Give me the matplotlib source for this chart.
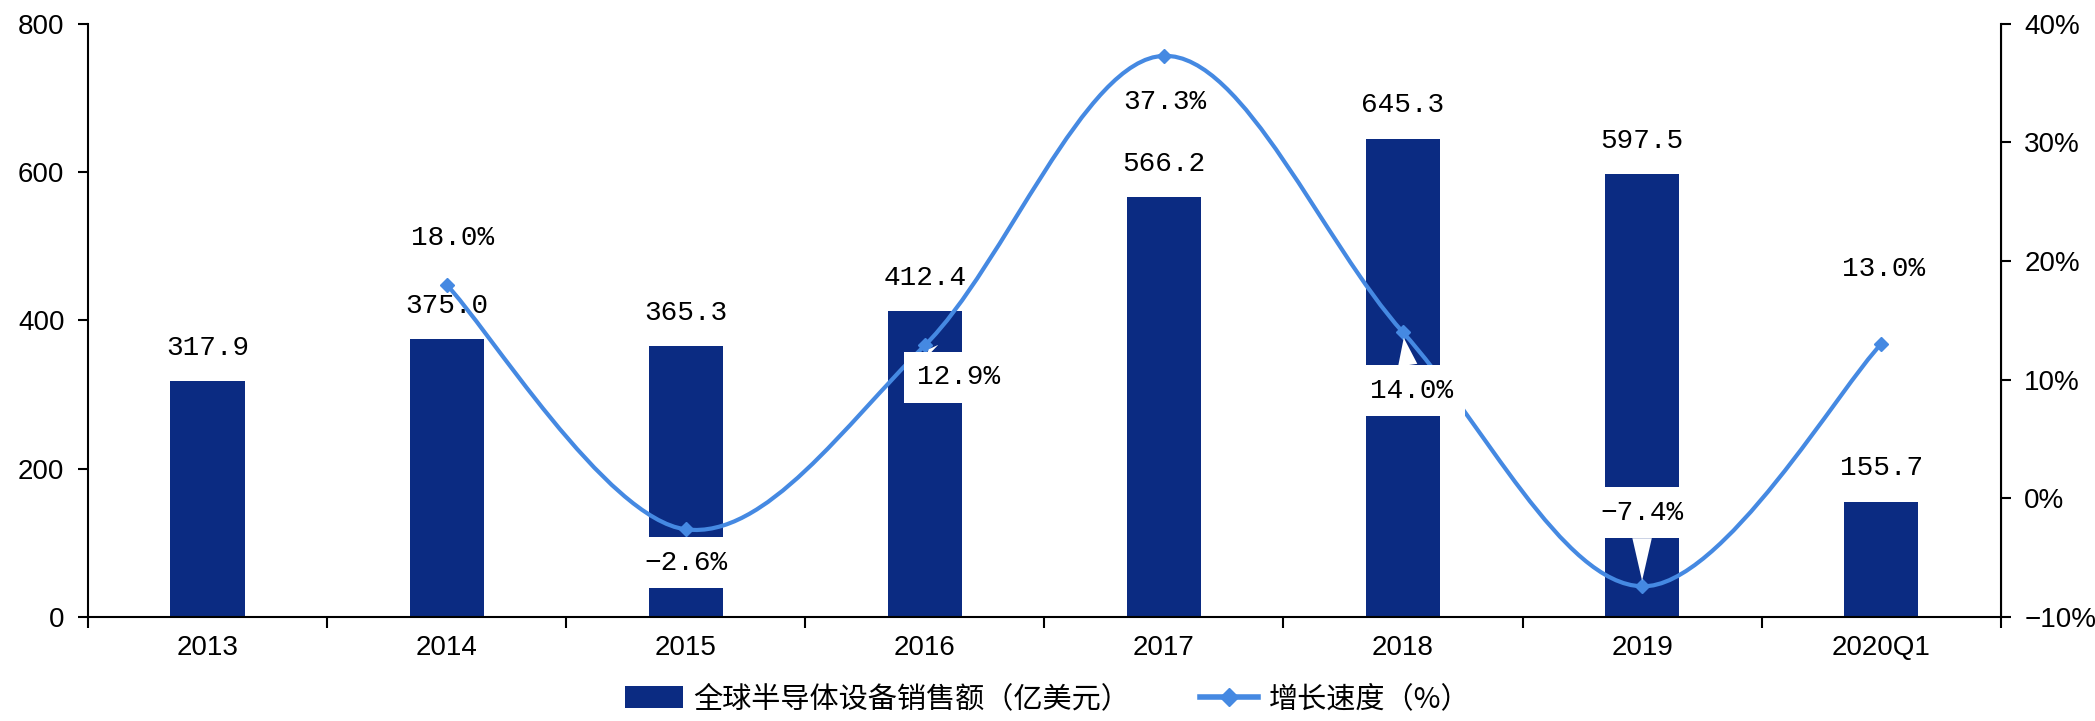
import numpy as np
import matplotlib
matplotlib.use("Agg")
import matplotlib.pyplot as plt
from matplotlib.path import Path
from matplotlib.patches import PathPatch, Patch
from matplotlib.lines import Line2D
from matplotlib.ticker import FuncFormatter

plt.rcParams['font.family'] = ['Liberation Sans', 'DejaVu Sans']

# ----- data -----
categories = ['2013', '2014', '2015', '2016', '2017', '2018', '2019', '2020Q1']
sales = [317.9, 375.0, 365.3, 412.4, 566.2, 645.3, 597.5, 155.7]
growth = [np.nan, 18.0, -2.6, 12.9, 37.3, 14.0, -7.4, 13.0]
growth_labels = [None, '18.0%', '-2.6%', '12.9%', '37.3%', '14.0%', '-7.4%', '13.0%']
# label offsets (points) relative to each marker, and whether a callout pointer shows
growth_offsets = [None, (4, 34), (0, -24), (24, -23), (1, -33), (6, -42), (0, 53), (2, 54)]
growth_pointer = [False, False, False, True, False, True, True, False]
growth_pad = [0, 0.45, 0.45, 0.45, 0.12, 0.45, 0.45, 0.45]

bar_color = '#0b2b82'
line_color = '#4589e2'

fig = plt.figure(figsize=(20.95, 7.21), dpi=100)
ax = fig.add_axes([0.042, 0.144, 0.913, 0.823])

x = np.arange(len(categories))
ax.bar(x, sales, width=0.31, color=bar_color, zorder=2)
ax.set_xlim(-0.5, len(categories) - 0.5)
ax.set_ylim(0, 800)
ax.set_yticks(np.arange(0, 801, 200))

# category labels at centres, ticks at boundaries
ax.set_xticks(x)
ax.set_xticklabels(categories)
ax.set_xticks(np.arange(-0.5, len(categories)), minor=True)
ax.tick_params(axis='x', which='major', length=0, pad=13, labelsize=20)
ax.tick_params(axis='x', which='minor', length=8, width=1.5, direction='out')
ax.tick_params(axis='y', length=7, width=1.5, labelsize=20, pad=10)

ax.spines['top'].set_visible(False)
for s in ['left', 'bottom']:
    ax.spines[s].set_linewidth(1.5)

for xi, v in zip(x, sales):
    ax.annotate(f'{v:.1f}', (xi, v), xytext=(0, 24), textcoords='offset points',
                ha='center', va='center', fontsize=20, family='Liberation Mono', zorder=3)

# ----- growth line on the right axis -----
ax2 = ax.twinx()
ax2.set_ylim(-10, 40)
ax2.set_yticks(np.arange(-10, 41, 10))
ax2.yaxis.set_major_formatter(FuncFormatter(lambda v, p: f'{v:.0f}%'.replace('-', '\u2212')))
ax2.tick_params(axis='y', length=7, width=1.5, labelsize=20, pad=10)
ax2.spines['top'].set_visible(False)
ax2.spines['right'].set_linewidth(1.5)
ax2.spines['left'].set_visible(False)
ax2.spines['bottom'].set_visible(False)

# smoothed curve (Catmull-Rom style bezier like the spreadsheet "smooth line")
gx = [xi for xi, g in zip(x, growth) if not np.isnan(g)]
gy = [g for g in growth if not np.isnan(g)]
pts = np.column_stack([gx, gy]).astype(float)
n = len(pts)
verts = [pts[0]]
codes = [Path.MOVETO]
for i in range(n - 1):
    p_prev = pts[i - 1] if i > 0 else pts[i]
    p_next2 = pts[i + 2] if i + 2 < n else pts[i + 1]
    c1 = pts[i] + (pts[i + 1] - p_prev) / 6.0
    c2 = pts[i + 1] - (p_next2 - pts[i]) / 6.0
    verts += [c1, c2, pts[i + 1]]
    codes += [Path.CURVE4] * 3
curve = PathPatch(Path(verts, codes), facecolor='none', edgecolor=line_color,
                  lw=3, zorder=3, transform=ax2.transData)
ax2.add_patch(curve)
ax2.plot(gx, gy, linestyle='none', marker='D', markersize=7, color=line_color, zorder=4)

for xi, g, lab, off, ptr, pad in zip(x, growth, growth_labels, growth_offsets,
                                     growth_pointer, growth_pad):
    if lab is None:
        continue
    arrow = None
    if ptr:
        arrow = dict(arrowstyle='wedge,tail_width=0.7,shrink_factor=0.5',
                     fc='white', ec='none', shrinkA=0, shrinkB=4)
    ax2.annotate(lab.replace('-', '\u2212'), (xi, g), xytext=off, textcoords='offset points',
                 ha='center', va='center', fontsize=20, family='Liberation Mono', zorder=6,
                 bbox=dict(boxstyle=f'square,pad={pad}', fc='white', ec='none'),
                 arrowprops=arrow)

# ----- legend -----
handles = [Patch(facecolor=bar_color, edgecolor='none'),
           Line2D([], [], color=line_color, lw=4, marker='D', markersize=9)]
labels = ['全球半导体设备销售额（亿美元）', '增长速度（%）']
fig.legend(handles, labels, loc='center', bbox_to_anchor=(0.5, 0.03), ncol=2,
           frameon=False, prop={'family': ['Noto Sans CJK SC', 'DejaVu Sans'], 'size': 21},
           handlelength=2.0, handleheight=0.8, columnspacing=2.4, handletextpad=0.35,
           borderpad=0.1)

fig.savefig('out.png', dpi=100)
